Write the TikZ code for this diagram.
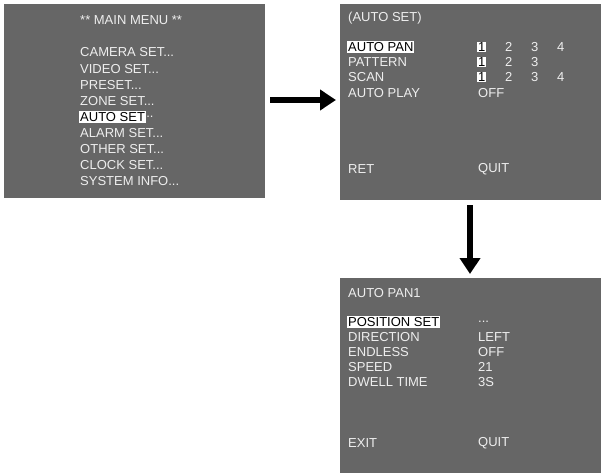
\documentclass[tikz,border=0pt]{standalone}
\usepackage{fontspec}
\setmainfont{Liberation Sans}
\usetikzlibrary{arrows.meta}
\begin{document}
\begin{tikzpicture}[x=1pt, y=-1pt,
  panel/.style = {fill=osdgray, draw=none},
  item/.style = {anchor=west, inner sep=1pt, text=osdtext, font=\fontsize{13}{13}\selectfont},
  sel/.style = {item, fill=white, text=black},
  arrow/.style = {line width=6pt, -{Triangle[length=16pt, width=20pt]}}
]
  \definecolor{osdgray}{HTML}{666666}
  \definecolor{osdtext}{HTML}{EEEEEE}
  \useasboundingbox (0,0) rectangle (601,473);

  % Panels
  \fill[panel] (4,4) rectangle (265,198);
  \fill[panel] (340,4) rectangle (601,200);
  \fill[panel] (340,278) rectangle (601,473);

  % Main menu
  \node[item] (mm) at (79,20) {** MAIN MENU **};
  \node[item] (cam) at (79,52) {CAMERA SET...};
  \node[item] (vid) at (79,69) {VIDEO SET...};
  \node[item] (pre) at (79,85) {PRESET...};
  \node[item] (zone) at (79,101) {ZONE SET...};
  \node[sel] (auto) at (79,117) {AUTO SET};
  \node[item, anchor=west, inner sep=0pt] at (auto.east) {..};
  \node[item] (alarm) at (79,133) {ALARM SET...};
  \node[item] (other) at (79,149) {OTHER SET...};
  \node[item] (clock) at (79,165) {CLOCK SET...};
  \node[item] (sys) at (79,181) {SYSTEM INFO...};

  % Auto set menu
  \node[item] (as) at (347,18) {(AUTO SET)};
  \node[sel] (pan) at (347,47) {AUTO PAN};
  \node[item] (pat) at (347,62) {PATTERN};
  \node[item] (scan) at (347,77) {SCAN};
  \node[item] (play) at (347,93) {AUTO PLAY};
  \node[sel] (p1) at (477,47) {1};
  \node[sel] (t1) at (477,62) {1};
  \node[sel] (s1) at (477,77) {1};
  \foreach \n/\x in {2/504,3/530,4/556} \node[item] at (\x,47) {\n};
  \foreach \n/\x in {2/504,3/530} \node[item] at (\x,62) {\n};
  \foreach \n/\x in {2/504,3/530,4/556} \node[item] at (\x,77) {\n};
  \node[item] (off) at (477,93) {OFF};
  \node[item] (ret) at (347,169) {RET};
  \node[item] (quit1) at (477,169) {QUIT};

  % Auto pan menu
  \node[item] (ap) at (347,293) {AUTO PAN1};
  \node[sel] (pos) at (347,322) {POSITION SET};
  \node[item] (dir) at (347,337) {DIRECTION};
  \node[item] (end) at (347,352) {ENDLESS};
  \node[item] (spd) at (347,367) {SPEED};
  \node[item] (dwell) at (347,382) {DWELL TIME};
  \node[item] at (477,322) {...};
  \node[item] at (477,337) {LEFT};
  \node[item] at (477,352) {OFF};
  \node[item] at (477,367) {21};
  \node[item] at (477,382) {3S};
  \node[item] (exit) at (347,443) {EXIT};
  \node[item] (quit2) at (477,443) {QUIT};

  % Arrows
  \coordinate (h1) at (270,100);
  \coordinate (h2) at (336,100);
  \coordinate (v1) at (470,205);
  \coordinate (v2) at (470,274);
  \draw[arrow] (h1) -- (h2);
  \draw[arrow] (v1) -- (v2);
\end{tikzpicture}
\end{document}
